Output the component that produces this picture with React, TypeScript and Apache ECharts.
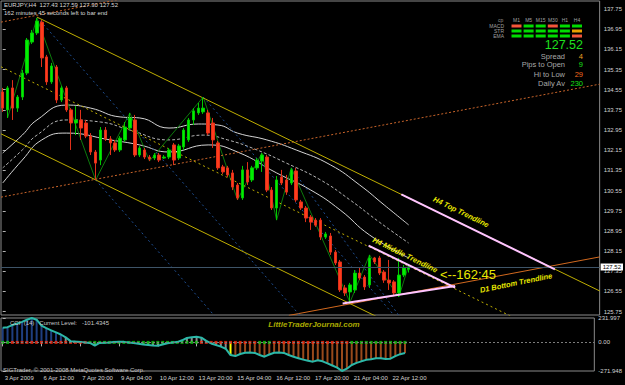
import React, { useEffect, useRef } from 'react';
import * as echarts from 'echarts';

const symbolName = 'EURJPY';
const timeframe = 'H4';
const countdownText = '162 minutes 45 seconds left to bar end';

// bar-by-bar H4 prices (bar 0 = 3 Apr 2009)
const opens = [134.46,133.75,134.62,133.82,134.26,135.21,136.44,136.80,137.23,135.85,134.86,135.45,134.14,134.62,133.75,133.23,133.35,133.23,132.71,132.08,131.76,132.95,132.60,132.44,132.16,132.56,133.03,133.35,131.96,132.16,131.88,131.84,131.96,131.84,131.88,132.36,131.84,132.28,132.56,133.35,133.63,133.67,133.63,133.23,132.44,131.49,131.45,131.25,130.77,130.26,131.37,130.97,131.45,131.72,131.88,130.57,129.86,131.09,130.97,130.85,131.33,130.10,129.86,129.50,129.38,129.38,128.71,128.75,128.11,127.72,126.69,126.53,126.61,127.28,127.12,126.81,127.88,127.88,127.32,127.00,126.93,126.49,127.20,127.43];
const highs = [134.62,134.70,134.93,134.34,135.33,136.60,136.92,137.39,137.31,135.93,135.61,135.53,134.70,134.70,133.82,133.90,133.75,133.35,132.83,132.16,133.07,133.07,132.71,132.56,132.71,133.27,133.63,133.55,132.32,132.24,131.96,132.04,132.04,131.96,132.24,132.44,132.40,133.03,133.43,133.82,134.02,134.26,133.75,133.43,132.52,131.57,131.53,131.37,130.85,131.53,131.68,131.53,131.84,132.04,131.96,130.69,131.13,131.37,131.17,131.45,131.45,130.18,129.94,129.58,129.46,129.46,128.91,128.87,128.19,127.80,126.81,126.89,127.40,127.48,127.20,128.00,127.92,127.96,127.40,127.80,127.00,127.88,127.60,127.59];
const lows = [133.67,133.43,133.35,133.67,134.14,135.13,136.36,136.72,135.45,134.74,134.78,134.02,134.06,133.67,132.16,132.75,132.56,132.63,131.96,130.97,131.56,132.52,131.96,132.08,132.08,132.48,132.95,131.88,131.88,131.80,131.72,131.76,131.68,131.80,131.80,131.56,131.76,132.16,132.48,133.15,133.55,133.59,132.75,132.24,131.37,131.21,131.09,130.57,130.18,130.18,130.77,130.89,131.37,131.29,130.49,129.78,129.38,130.77,130.38,130.77,130.10,129.78,129.30,128.99,129.11,128.59,128.63,128.00,127.60,126.53,126.37,126.12,126.49,127.00,126.61,126.69,127.64,127.20,126.89,126.61,126.37,126.33,127.12,127.30];
const closes = [133.82,134.62,133.82,134.26,135.21,136.52,136.80,137.27,135.81,134.86,135.49,134.14,134.62,133.75,133.23,133.35,133.03,132.71,132.08,131.64,132.95,132.60,132.44,132.16,132.63,133.07,133.43,131.96,132.24,131.88,131.80,131.96,131.76,131.88,132.16,131.76,132.32,132.95,133.35,133.71,133.82,133.82,132.83,132.56,131.45,131.29,131.17,130.69,130.26,131.37,130.89,131.45,131.76,131.96,130.57,129.86,130.97,130.85,130.49,131.37,130.18,129.86,129.46,129.30,129.18,128.71,128.83,128.11,127.68,126.61,126.49,126.81,127.28,127.08,126.73,127.88,127.72,127.28,127.00,126.89,126.49,127.20,127.48,127.52];

const tickBars = [0, 8, 16, 24, 32, 40, 48, 56, 64, 72, 80];
const tickLabels = ['3 Apr 2009','6 Apr 12:00','7 Apr 20:00','9 Apr 04:00','10 Apr 12:00','13 Apr 20:00','15 Apr 04:00','16 Apr 12:00','17 Apr 20:00','21 Apr 04:00','22 Apr 12:00'];
const priceTicks = [125.75,126.55,127.35,128.15,128.95,129.75,130.55,131.35,132.15,132.95,133.75,134.55,135.35,136.15,136.95,137.75];
const cciTicks = [-271.948, 0, 231.997];

const cci = [140,145,165,180,195,216,231.997,216,160,135,115,95,75,48,12,8,5,0,-5,-31,-5,-3,-2,3,6,5,0,-5,-12,-20,-25,-30,-31,-20,-8,-2,3,20,42,50,54,45,15,-10,-25,-40,-60,-120,-130,-110,-98,-97,-100,-120,-136,-115,-98,-97,-100,-120,-136,-150,-164,-175,-183,-170,-180,-200,-220,-240,-271.948,-250,-215,-195,-180,-166,-160,-150,-150,-158,-155,-130,-112,-101.4345];
const cciSignal = [1,1,-1,-1,-1,-1,-1,-1,-1,-1,-1,-1,-1,-1,-1,-1,-1,-1,1,1,1,1,1,1,1,1,1,1,1,1,1,1,1,1,1,1,1,1,1,1,1,-1,-1,-1,-1,-1,-1,-1,-1,-1,-1,-1,-1,1,1,1,-1,-1,-1,-1,-1,-1,-1,-1,-1,-1,-1,-1,-1,-1,-1,-1,1,1,1,1,1,1,1,1,1,1,1,1];

const zigzag = [[1,133.43],[7,137.39],[19,130.97],[26,133.63],[30,131.72],[41,134.26],[48,130.18],[53,132.04],[56,129.38],[59,131.45],[71,126.12],[75,128.00],[81,126.33],[83,127.59]];
const envUpper = [[0,132.04],[4,132.75],[7,133.35],[13,133.94],[18,133.82],[24,133.47],[28,133.43],[34,133.03],[40,133.19],[44,133.15],[48,132.83],[54,132.56],[60,132.16],[67,131.57],[73,130.77],[78,129.98],[83,129.19]];
const envMid = [[0,131.45],[4,132.16],[7,132.75],[13,133.35],[20,133.27],[26,132.95],[34,132.56],[41,132.75],[46,132.56],[52,132.16],[58,131.64],[65,130.97],[71,130.18],[77,129.30],[83,128.47]];
const envLower = [[0,130.85],[4,131.76],[8,132.56],[13,132.83],[22,132.56],[28,132.36],[34,132.08],[42,132.36],[48,132.08],[56,131.25],[63,130.57],[69,129.78],[75,128.79],[83,127.88]];

const channelTop = [[7,137.43],[122.06,126.57]];
const channelBottom = [[-0.35,132.80],[76.5,125.55]];
const channelMid = [[-0.35,135.46],[104,125.56]];
const h4TopSegment = [[81.5,130.40],[112.9,127.43]];
const h4MidSegment = [[74.8,128.37],[92.5,126.70]];
const h4BottomSegment = [[69.5,126.07],[92.5,126.77]];
const d1Bottom = [[58.5,125.60],[122.06,127.92]];
const d1Middle = [[-0.35,130.29],[122.06,134.77]];
const d1Top = [[-0.35,137.23],[30,138.35]];
const fanLines = [
  [[7,137.43],[61,125.55]],
  [[19,130.97],[44,125.43]],
  [[41,134.26],[80,125.61]],
  [[59,131.45],[81,125.60]],
];

const infoLabels = ['Spread', 'Pips to Open', 'Hi to Low', 'Daily Av'];
const infoValues = [4, 9, 29, 230];
const infoTone = [0, 1, -1, 1];
const timeframes = ['M1', 'M5', 'M15', 'M30', 'H1', 'H4'];
const signalRows = ['MACD', 'STR', 'EMA'];
const signalGrid = [
  [-1, 1, 1, -1, 1, 1],
  [1, 1, 1, 1, 1, 0],
  [1, 1, 1, 1, 1, -1],
];
const cciPeriod = 14;

const FONT = '"Liberation Sans", Arial, Helvetica, sans-serif';
const X_MIN = -0.35;
const X_MAX = 122.05;

function txt(x: number, y: number, text: string, o: any = {}) {
  return {
    type: 'text', x, y, rotation: o.rotation || 0, silent: true, z: 100,
    style: {
      text, fill: o.fill || '#d0d0d0',
      fontSize: o.fontSize || 6, fontFamily: FONT,
      fontWeight: o.fontWeight || 'normal', fontStyle: o.fontStyle || 'normal',
      align: o.align || 'left', textAlign: o.align || 'left',
      verticalAlign: 'middle', textVerticalAlign: 'middle',
    },
  };
}

function buildOption() {
  const n = closes.length;
  const last = n - 1;
  const candleData = closes.map((c, i) => [i, opens[i], c, lows[i], highs[i]]);

  const line = (data: any, color: string, type: any, width: number, z: number, smooth: any = false) => ({
    type: 'line', xAxisIndex: 0, yAxisIndex: 0, data, symbol: 'none', silent: true, z, smooth,
    lineStyle: { color, width, type }, clip: true,
  });

  const sigColor = (s: number) => (s > 0 ? '#00dc00' : s < 0 ? '#f4563a' : '#e8a000');
  const toneColor = (s: number) => (s > 0 ? '#18e018' : s < 0 ? '#f06a1e' : '#f0a020');

  let firstCross = -1;
  for (let i = 1; i < cci.length; i++) {
    if (cci[i] < -100 && cci[i - 1] >= -100 && firstCross < 0) firstCross = i;
  }

  const graphic: any[] = [];
  graphic.push(txt(4, 5, `${symbolName},${timeframe}  ${opens[last].toFixed(2)} ${highs[last].toFixed(2)} ${lows[last].toFixed(2)} ${closes[last].toFixed(2)}`, { fill: '#d8d8d8' }));
  graphic.push(txt(4, 12.5, countdownText, { fill: '#d8d8d8' }));

  // info panel
  graphic.push(txt(498, 20, 'cp', { fill: '#909090', fontSize: 5 }));
  timeframes.forEach((tf, j) => {
    graphic.push(txt(516.5 + j * 12.1, 20, tf, { fill: '#a0a0a0', fontSize: 5, align: 'center' }));
  });
  signalRows.forEach((r, k) => {
    graphic.push(txt(504, 26 + k * 5, r, { fill: '#a0a0a0', fontSize: 5, align: 'right' }));
    signalGrid[k].forEach((s, j) => {
      graphic.push({ type: 'rect', silent: true, z: 100, shape: { x: 511.5 + j * 12.1, y: 24.5 + k * 5, width: 10, height: 3 }, style: { fill: sigColor(s) } });
    });
  });
  graphic.push(txt(583, 45, closes[last].toFixed(2), { fill: '#1ee01e', fontSize: 12.5, align: 'right' }));
  infoLabels.forEach((lab, k) => {
    const y = [56, 64.5, 74, 83][k];
    graphic.push(txt(565, y, lab, { fill: '#a8a8a8', fontSize: 7.5, align: 'right' }));
    graphic.push(txt(583, y, String(infoValues[k]), { fill: toneColor(infoTone[k]), fontSize: 7.5, align: 'right' }));
  });

  // trendline captions
  const cap = { fill: '#e8e800', fontSize: 7.5, fontWeight: 'bold', fontStyle: 'italic', align: 'center' };
  graphic.push(txt(461, 212, 'H4 Top Trendline', { ...cap, rotation: -0.452 }));
  graphic.push(txt(405, 255, 'H4 Middle Trendline', { ...cap, rotation: -0.452 }));
  graphic.push(txt(516, 283, 'D1 Bottom Trendline', { ...cap, rotation: 0.2 }));
  graphic.push(txt(440, 274.5, '<--162:45', { fill: '#e8e800', fontSize: 13 }));

  // CCI panel texts
  graphic.push(txt(10, 322.5, `CCI  (${cciPeriod})   Current Level:   ${cci[last].toFixed(4)}`, { fill: '#c8c8c8', fontSize: 6 }));
  graphic.push(txt(314, 324.5, 'LittleTraderJournal.com', { fill: '#a8a800', fontSize: 8, fontWeight: 'bold', fontStyle: 'italic', align: 'center' }));
  graphic.push(txt(3, 369.5, 'SIGTrader, \u00a9 2001-2008 MetaQuotes Software Corp.', { fill: '#c8c8c8', fontSize: 6 }));

  const series: any[] = [
    line(envUpper, '#d4d4d4', 'solid', 1, 2, 0.5),
    line(envMid, '#b4b4b4', [3, 2], 1, 2, 0.5),
    line(envLower, '#d4d4d4', 'solid', 1, 2, 0.5),
    line(zigzag, '#0c7a0c', 'solid', 1, 2),
    line(d1Top, '#c8642a', [2, 2], 1, 3),
    line(d1Middle, '#c8642a', [2, 2], 1, 3),
    line(d1Bottom, '#d2691e', 'solid', 1, 3),
    ...fanLines.map((f) => line(f, '#1e4e92', [2, 3], 1, 3)),
    line(channelTop, '#bfae00', 'solid', 1, 3),
    line(channelBottom, '#bfae00', 'solid', 1, 3),
    line(channelMid, '#bfae00', [2, 3], 1, 3),
    {
      type: 'candlestick', xAxisIndex: 0, yAxisIndex: 0, data: candleData, silent: true, z: 4,
      encode: { x: 0, y: [1, 2, 3, 4] }, barWidth: 3,
      itemStyle: { color: '#00f000', color0: '#ff3c1c', borderColor: '#00c800', borderColor0: '#e0301a', borderWidth: 1 },
      markLine: {
        silent: true, symbol: ['none', 'none'], animation: false,
        data: [{ yAxis: closes[last] }],
        lineStyle: { color: '#3e5468', width: 1, type: 'solid' },
        label: { show: true, position: 'end', distance: 1, formatter: closes[last].toFixed(2), backgroundColor: '#ffffff', color: '#000000', fontSize: 6, fontFamily: FONT, padding: [1, 2, 0, 2] },
      },
    },
    line(h4TopSegment, '#ffc4ff', 'solid', 2, 5),
    line(h4MidSegment, '#ffc4ff', 'solid', 2, 5),
    line(h4BottomSegment, '#ffc4ff', 'solid', 2, 5),
    {
      type: 'bar', xAxisIndex: 1, yAxisIndex: 1, silent: true, z: 2, barWidth: 2,
      data: cci.map((v, i) => [i, v]),
      itemStyle: {
        color: (p: any) => {
          const v = cci[p.dataIndex];
          if (p.dataIndex === firstCross) return '#ffff00';
          if (v > 60) return '#1f3f80';
          if (v < -60) return '#9a4a1c';
          return '#8a8a8a';
        },
      },
    },
    {
      type: 'scatter', xAxisIndex: 1, yAxisIndex: 1, silent: true, z: 3, symbol: 'rect', symbolSize: [3, 3],
      data: cciSignal.map((s, i) => [i, 0, s]),
      itemStyle: { color: (p: any) => (cciSignal[p.dataIndex] > 0 ? '#10c810' : '#ff2c10') },
    },
    {
      type: 'line', xAxisIndex: 1, yAxisIndex: 1, silent: true, z: 4, symbol: 'none',
      data: cci.map((v, i) => [i, v]),
      lineStyle: { color: '#2cb8a8', width: 2 },
      markLine: {
        silent: true, symbol: ['none', 'none'], animation: false,
        data: [{ yAxis: 0 }], label: { show: false },
        lineStyle: { color: '#7c7c7c', width: 1, type: [2, 2] },
      },
    },
  ];

  return {
    animation: false,
    backgroundColor: '#000000',
    textStyle: { fontFamily: FONT },
    grid: [
      { left: 1, top: 1, width: 601, height: 314, show: true, borderColor: '#8a8a8a', borderWidth: 1, backgroundColor: 'transparent' },
      { left: 1, top: 318, width: 601, height: 53, show: true, borderColor: '#8a8a8a', borderWidth: 1, backgroundColor: 'transparent' },
    ],
    xAxis: [
      { type: 'value', gridIndex: 0, min: X_MIN, max: X_MAX, show: false, splitLine: { show: false } },
      {
        type: 'value', gridIndex: 1, min: X_MIN, max: X_MAX,
        axisLine: { show: false }, splitLine: { show: false },
        axisTick: { show: true, customValues: tickBars, length: 4, lineStyle: { color: '#b0b0b0' } },
        axisLabel: {
          customValues: tickBars, align: 'left', color: '#d4d4d4', fontSize: 6, margin: 4, padding: [0, 0, 0, 2],
          formatter: (v: number) => { const k = tickBars.indexOf(Math.round(v)); return k >= 0 ? tickLabels[k] : ''; },
        },
      },
    ],
    yAxis: [
      {
        type: 'value', gridIndex: 0, position: 'right', min: 125.617, max: 138.067,
        splitLine: { show: false }, axisLine: { show: false },
        axisTick: { show: true, customValues: priceTicks, length: 3, lineStyle: { color: '#b0b0b0' } },
        axisLabel: { customValues: priceTicks, color: '#d4d4d4', fontSize: 6, margin: 4, formatter: (v: number) => v.toFixed(2) },
      },
      {
        type: 'value', gridIndex: 1, position: 'right', min: -271.948, max: 231.997,
        splitLine: { show: false }, axisLine: { show: false },
        axisTick: { show: true, customValues: cciTicks, length: 3, lineStyle: { color: '#b0b0b0' } },
        axisLabel: { customValues: cciTicks, color: '#d4d4d4', fontSize: 6, margin: 4, formatter: (v: number) => (v === 0 ? '0.00' : v.toFixed(3)) },
      },
    ],
    graphic,
    series,
  };
}

export default function App() {
  const ref = useRef<HTMLDivElement>(null);
  useEffect(() => {
    document.body.style.margin = '0';
    document.body.style.background = '#000';
    const chart = echarts.init(ref.current as HTMLDivElement, null, { renderer: 'svg' });
    chart.setOption(buildOption() as any);
    return () => chart.dispose();
  }, []);
  return <div ref={ref} style={{ position: 'fixed', left: 0, top: 0, width: 625, height: 385, background: '#000' }} />;
}
